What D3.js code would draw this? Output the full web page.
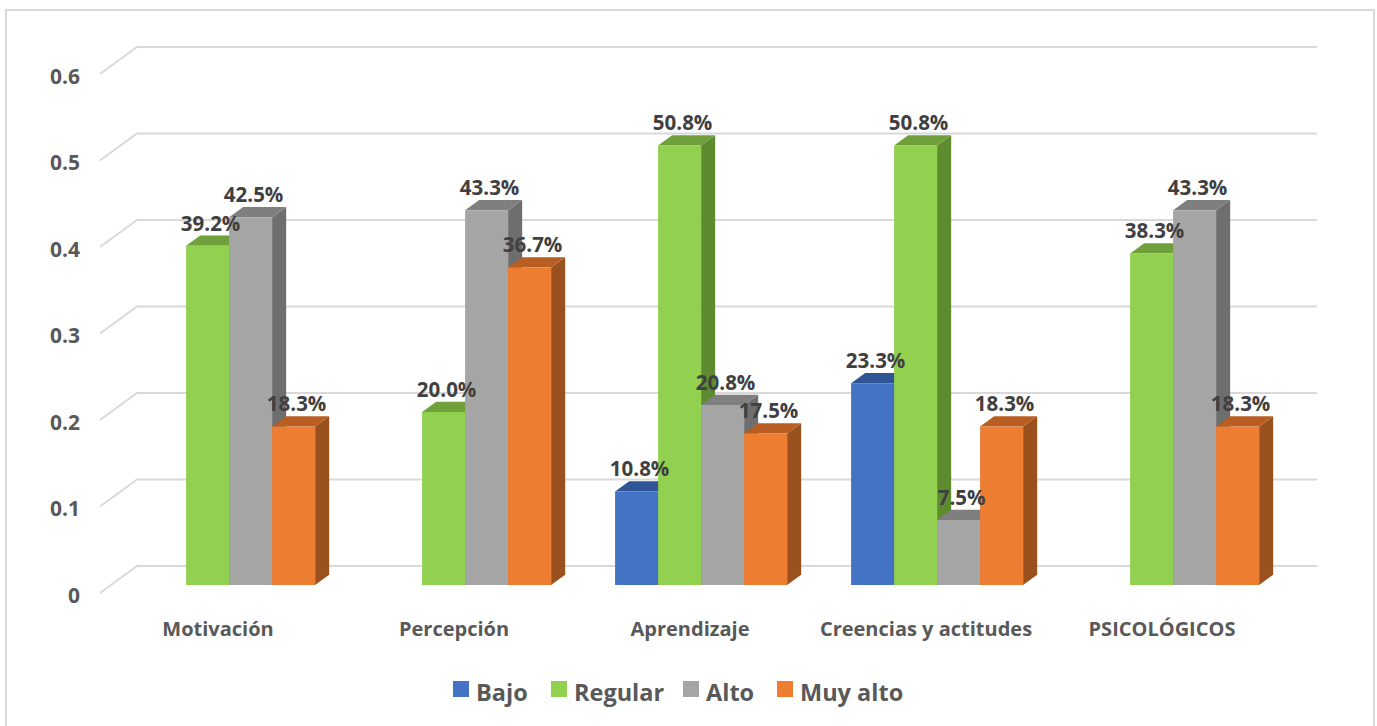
<!DOCTYPE html>
<html>
<head>
<meta charset="utf-8">
<script src="https://cdn.jsdelivr.net/npm/d3@7"></script>
<style>
  html, body { margin: 0; padding: 0; background: #ffffff; }
  svg { display: block; }
  text { font-family: "Open Sans", "DejaVu Sans", sans-serif; font-weight: 700; }
</style>
</head>
<body>
<svg id="chart" width="1377" height="726"></svg>
<script>
// Categories along the horizontal axis
const categories = ["Motivación", "Percepción", "Aprendizaje", "Creencias y actitudes", "PSICOLÓGICOS"];
// Series (legend order)
const seriesNames = ["Bajo", "Regular", "Alto", "Muy alto"];
// Values per series, one per category
const bajo    = [0,     0,     0.108, 0.233, 0];
const regular = [0.392, 0.200, 0.508, 0.508, 0.383];
const alto    = [0.425, 0.433, 0.208, 0.075, 0.433];
const muyAlto = [0.183, 0.367, 0.175, 0.183, 0.183];
const seriesValues = [bajo, regular, alto, muyAlto];
// Value axis ticks
const yTicks = [0, 0.1, 0.2, 0.3, 0.4, 0.5, 0.6];

// Face colours: front, top, side
const palette = {
  "Bajo":     { front: "#4472C4", top: "#2F5597", side: "#30539A" },
  "Regular":  { front: "#92D050", top: "#6FA03B", side: "#5E8A30" },
  "Alto":     { front: "#A5A5A5", top: "#7F7F7F", side: "#6E6E6E" },
  "Muy alto": { front: "#ED7D31", top: "#B95E22", side: "#9A511E" }
};

const svg = d3.select("#chart");

// Outer frame
svg.append("rect")
  .attr("x", 6).attr("y", 10).attr("width", 1368).attr("height", 730)
  .attr("fill", "none").attr("stroke", "#d9d9d9").attr("stroke-width", 2);

// Oblique projection: depth d in [0,1] shifts right and up
const depthDX = 37, depthDY = -27;
const proj = (x, y, d) => [x + d * depthDX, y + d * depthDY];

// Scales on the front plane
const x = d3.scaleBand().domain(categories).range([100, 1280]).padding(0);
const y = d3.scaleLinear().domain([0, 0.6]).range([593, 74]);
const groupPad = 32;
const xs = d3.scaleBand().domain(seriesNames).range([0, x.bandwidth() - 2 * groupPad]).padding(0);

// Gridlines: floor diagonal on the left plus back wall line
const grid = svg.append("g");
yTicks.forEach(t => {
  const a = proj(x.range()[0], y(t), 0);
  const b = proj(x.range()[0], y(t), 1);
  const c = proj(x.range()[1], y(t), 1);
  grid.append("path")
    .attr("d", d3.line()([a, b, c]))
    .attr("fill", "none")
    .attr("stroke", "#d9d9d9")
    .attr("stroke-width", 2);
});

// Value axis labels
svg.append("g").selectAll("text")
  .data(yTicks).join("text")
  .attr("x", 80)
  .attr("y", d => y(d) + 4)
  .attr("text-anchor", "end")
  .attr("dominant-baseline", "middle")
  .attr("font-size", 21)
  .attr("fill", "#595959")
  .text(d => d === 0 ? "0" : d3.format(".1f")(d));

// Bars, drawn left to right so neighbours cover side faces
const bar0 = 0.3, bar1 = 0.68;
const bars = [];
categories.forEach((cat, ci) => {
  seriesNames.forEach((s, si) => {
    const v = seriesValues[si][ci];
    bars.push({ cat, s, v, x0: x(cat) + groupPad + xs(s), x1: x(cat) + groupPad + xs(s) + xs.bandwidth() });
  });
});

const barG = svg.append("g");
bars.filter(b => b.v > 0).forEach(b => {
  const c = palette[b.s];
  const yT = y(b.v), yB = y(0);
  const fTL = proj(b.x0, yT, bar0), fTR = proj(b.x1, yT, bar0);
  const fBL = proj(b.x0, yB, bar0), fBR = proj(b.x1, yB, bar0);
  const bTL = proj(b.x0, yT, bar1), bTR = proj(b.x1, yT, bar1);
  const bBR = proj(b.x1, yB, bar1);
  const poly = pts => d3.line()(pts) + "Z";
  barG.append("path").attr("d", poly([fTR, bTR, bBR, fBR])).attr("fill", c.side);
  barG.append("path").attr("d", poly([fTL, fTR, bTR, bTL])).attr("fill", c.top);
  barG.append("path").attr("d", poly([fTL, fTR, fBR, fBL])).attr("fill", c.front);
});

// Data labels
svg.append("g").selectAll("text")
  .data(bars.filter(b => b.v > 0)).join("text")
  .attr("x", b => (b.x0 + b.x1) / 2 + bar0 * depthDX + 3)
  .attr("y", b => y(b.v) + bar1 * depthDY - 5)
  .attr("text-anchor", "middle")
  .attr("font-size", 20.5)
  .attr("fill", "#404040")
  .text(b => d3.format(".1%")(b.v));

// Category labels
svg.append("g").selectAll("text")
  .data(categories).join("text")
  .attr("x", d => x(d) + x.bandwidth() / 2)
  .attr("y", 636)
  .attr("text-anchor", "middle")
  .attr("font-size", 20)
  .attr("fill", "#595959")
  .text(d => d);

// Legend
const legendX = [453, 551, 683, 777];
const legend = svg.append("g");
seriesNames.forEach((s, i) => {
  legend.append("rect")
    .attr("x", legendX[i]).attr("y", 681)
    .attr("width", 16).attr("height", 16)
    .attr("fill", palette[s].front);
  legend.append("text")
    .attr("x", legendX[i] + 23).attr("y", 701)
    .attr("font-size", 23.5)
    .attr("fill", "#595959")
    .text(s);
});
</script>
</body>
</html>
